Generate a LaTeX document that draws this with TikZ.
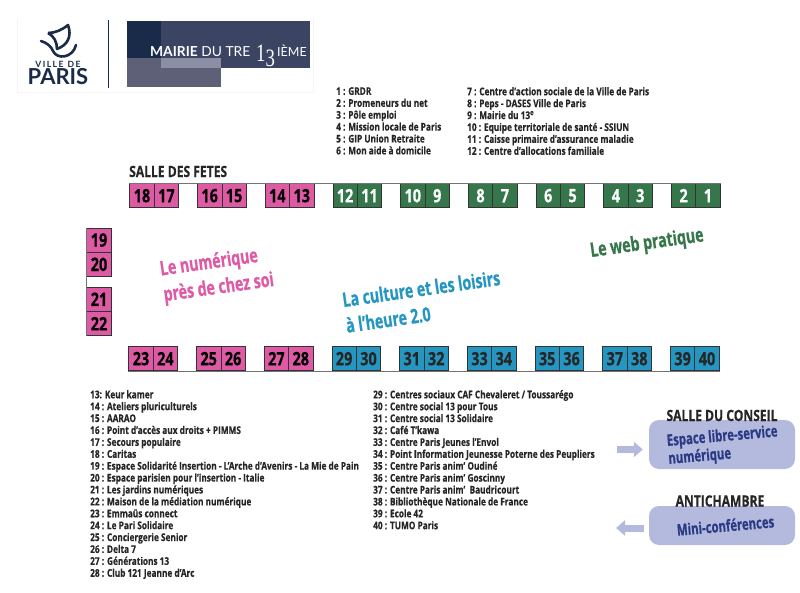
\documentclass[tikz,border=0pt]{standalone}
\usepackage{fontspec}
\setmainfont[FakeStretch=0.78,BoldFeatures={FakeBold=0.5}]{Open Sans}
\newfontfamily\themefont[FakeStretch=0.71,BoldFeatures={FakeBold=0.6}]{Open Sans}
\newfontfamily\logofont{Lato}
\newfontfamily\seriffont[FakeStretch=0.75]{Liberation Serif}
\usepackage{tikz}
\usetikzlibrary{arrows.meta}
\definecolor{pinkstand}{HTML}{DE5AA5}
\definecolor{greenstand}{HTML}{35764A}
\definecolor{bluestand}{HTML}{2596C1}
\definecolor{lilac}{HTML}{B4B9DE}
\definecolor{lilactext}{HTML}{2B3A85}
\definecolor{navy}{HTML}{1A2B4A}
\definecolor{slate}{HTML}{3B4463}
\definecolor{dusk}{HTML}{5E6078}
\definecolor{haze}{HTML}{8C8EA3}
\tikzset{
	stand/.style={
		draw=black!80,line width=0.8pt,minimum width=24.4pt,minimum height=24pt,
		inner sep=0pt,font=\fontsize{18.5}{19}\selectfont\bfseries,
	},
	pinkbox/.style={stand,fill=pinkstand,text=black},
	greenbox/.style={stand,fill=greenstand,text=white},
	bluebox/.style={stand,fill=bluestand,text=black!85},
	legend/.style={
		anchor=north west,align=left,inner sep=0pt,
		font=\fontsize{10.6}{11.9}\selectfont\bfseries,text=black!85,
	},
	theme/.style={
		rotate=8,align=left,inner sep=0pt,
		font=\themefont\fontsize{20}{26}\selectfont\bfseries,
	},
	roomtitle/.style={inner sep=0pt,font=\fontsize{15.5}{16}\selectfont\bfseries,text=black!85},
	zonebox/.style={fill=lilac,rounded corners=10pt,minimum width=146pt},
	zonetext/.style={
		rotate=5,align=left,inner sep=0pt,text=lilactext,
		font=\themefont\fontsize{16}{18}\selectfont\bfseries,
	},
	flow/.style={lilac,line width=7pt,-{Triangle[length=9pt,width=15pt]}},
	wall/.style={black!55,line width=1.2pt},
}
\begin{document}
\begin{tikzpicture}[x=1pt,y=-1pt,node distance=24.4pt]
	\useasboundingbox (0,0) rectangle (800,593);
	% logos
	\fill[black!4] (17,18) rectangle (314,93);
	\fill[white] (18,17) rectangle (313,92);
	\draw[navy,line width=1pt] (108,20) -- (108,88);
	\fill[slate] (127,21) rectangle (310,68);
	\fill[navy] (127,21) rectangle (161,58);
	\fill[dusk] (127,58) rectangle (221,87);
	\fill[haze] (161,58) rectangle (221,68);
	\draw[navy,line width=2.6pt,line join=round] (48,33) .. controls (55,33) and (62,30) .. (68,25) .. controls (72,36) and (68,45) .. (57,49) .. controls (57,42) and (54,36) .. (48,33);
	\draw[navy,line width=2.6pt,line cap=round] (41,41) .. controls (47,43) and (51,46) .. (53,51) .. controls (57,60) and (73,58) .. (76,45);
	\node[inner sep=0pt,text=navy,font=\logofont\fontsize{8.6}{9}\selectfont\bfseries] (ville) at (58,64) {V\,I\,L\,L\,E\ \ D\,E};
	\node[inner sep=0pt,text=navy,font=\logofont\fontsize{22}{22}\selectfont\bfseries] (paris) at (58,77) {PARIS};
	\node[inner sep=0pt,anchor=base west,text=white,font=\logofont\fontsize{13.8}{14}\selectfont] (mairie) at (150,57) {\textbf{MAIRIE} DU TRE};
	\node[inner sep=0pt,anchor=base west,text=white,font=\seriffont\fontsize{25}{25}\selectfont] (treize) at (256,62) {1\raisebox{-5pt}{3}};
	\node[inner sep=0pt,anchor=base west,text=white,font=\logofont\fontsize{12.5}{14}\selectfont] (ieme) at (277,57) {IÈME};
	% legends
	\node[legend] (listA) at (336,87) {1 : GRDR\\2 : Promeneurs du net\\3 : Pôle emploi\\4 : Mission locale de Paris\\5 : GIP Union Retraite\\6 : Mon aide à domicile};
	\node[legend] (listB) at (467,87) {7 : Centre d’action sociale de la Ville de Paris\\8 : Peps - DASES Ville de Paris\\9 : Mairie du 13\textsuperscript{e}\\10 : Equipe territoriale de santé - SSIUN\\11 : Caisse primaire d’assurance maladie\\12 : Centre d’allocations familiale};
	\node[legend] (listC) at (90,390) {13: Keur kamer\\14 : Ateliers pluriculturels\\15 : AARAO\\16 : Point d’accès aux droits + PIMMS\\17 : Secours populaire\\18 : Caritas\\19 : Espace Solidarité Insertion - L’Arche d’Avenirs - La Mie de Pain\\20 : Espace parisien pour l’insertion - Italie\\21 : Les jardins numériques\\22 : Maison de la médiation numérique\\23 : Emmaüs connect\\24 : Le Pari Solidaire\\25 : Conciergerie Senior\\26 : Delta 7\\27 : Générations 13\\28 : Club 121 Jeanne d’Arc};
	\node[legend] (listD) at (373,390) {29 : Centres sociaux CAF Chevaleret / Toussarégo\\30 : Centre social 13 pour Tous\\31 : Centre social 13 Solidaire\\32 : Café T’kawa\\33 : Centre Paris Jeunes l’Envol\\34 : Point Information Jeunesse Poterne des Peupliers\\35 : Centre Paris anim’ Oudiné\\36 : Centre Paris anim’ Goscinny\\37 : Centre Paris anim’\ \ Baudricourt\\38 : Bibliothèque Nationale de France\\39 : Ecole 42\\40 : TUMO Paris};
	% stands
	\node[roomtitle,anchor=west] (fetes) at (129,171.5) {SALLE DES FETES};
	\foreach \a/\b/\i/\kind in {18/17/0/pinkbox,16/15/1/pinkbox,14/13/2/pinkbox,12/11/3/greenbox,10/9/4/greenbox,8/7/5/greenbox,6/5/6/greenbox,4/3/7/greenbox,2/1/8/greenbox}{
		\node[\kind] (s\a) at (142+67.7*\i,195.7) {\a};
		\node[\kind] (s\b) [right of=s\a] {\b};
	}
	\foreach \a/\b/\i/\kind in {23/24/0/pinkbox,25/26/1/pinkbox,27/28/2/pinkbox,29/30/3/bluebox,31/32/4/bluebox,33/34/5/bluebox,35/36/6/bluebox,37/38/7/bluebox,39/40/8/bluebox}{
		\node[\kind] (s\a) at (141+67.7*\i,358.7) {\a};
		\node[\kind] (s\b) [right of=s\a] {\b};
	}
	\foreach \a/\b/\y in {19/20/240,21/22/299.3}{
		\node[pinkbox] (s\a) at (99,\y) {\a};
		\node[pinkbox] (s\b) [below of=s\a] {\b};
	}
	\draw[wall] (s18.north west) -- (s1.north east);
	\draw[wall] (s23.south west) -- (s40.south east);
	\draw[wall] (s19.north west) -- (s22.south west);
	% themes
	\node[theme,text=pinkstand] (numerique) at (217,275.5) {Le numérique\\près de chez soi};
	\node[theme,text=bluestand] (culture) at (423,301.5) {La culture et les loisirs\\à l’heure 2.0};
	\node[theme,text=greenstand] (web) at (647,244) {Le web pratique};
	% rooms
	\node[zonebox,minimum height=49pt] (libre) at (722,444.5) {};
	\node[zonetext] (libretxt) at (723,446) {Espace libre-service\\numérique};
	\node[roomtitle] (conseil) at (722,415.5) {SALLE DU CONSEIL};
	\node[zonebox,minimum height=39pt] (mini) at (722,525.5) {};
	\node[zonetext] (minitxt) at (725.5,525.5) {Mini-conférences};
	\node[roomtitle] (antichambre) at (720,501) {ANTICHAMBRE};
	\coordinate (inflow) at (617,449.5);
	\coordinate (outflow) at (616,528);
	\draw[flow,shorten >=6pt] (inflow) -- (inflow -| libre.west);
	\draw[flow,shorten <=5pt] (outflow -| mini.west) -- (outflow);
\end{tikzpicture}
\end{document}
